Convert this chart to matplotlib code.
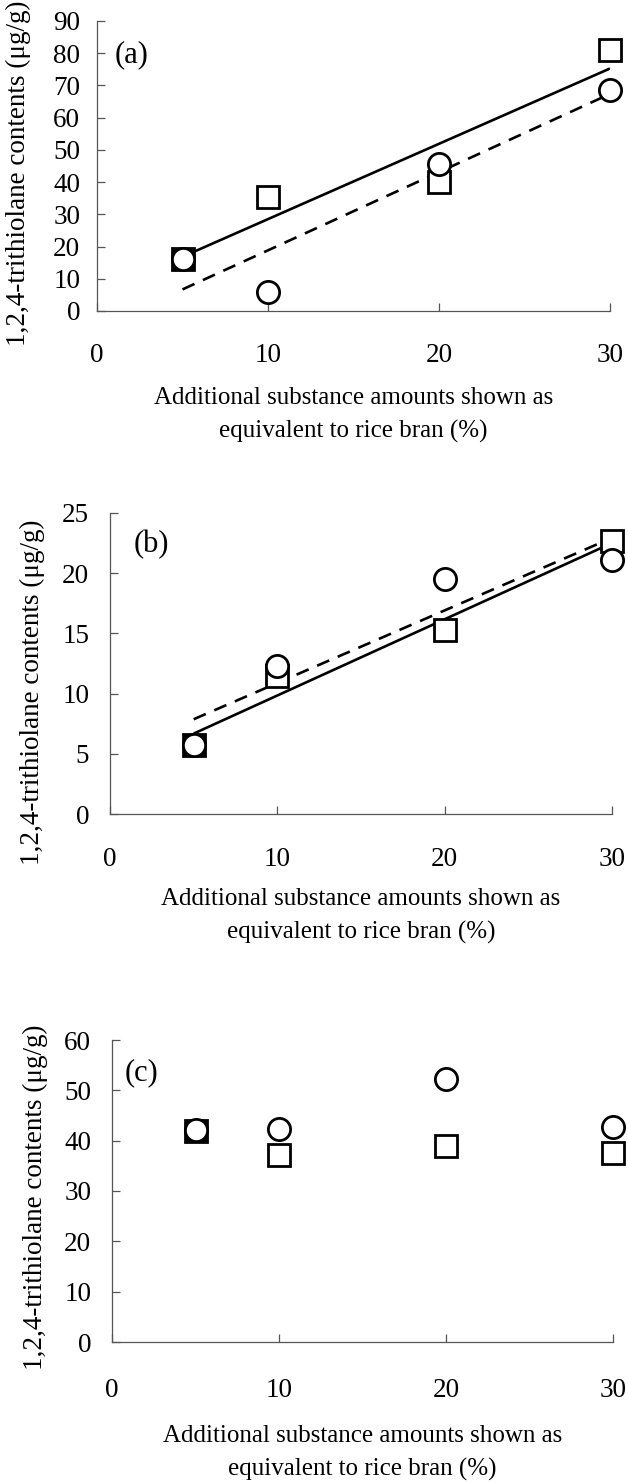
import numpy as np
import matplotlib
matplotlib.use("Agg")
import matplotlib.pyplot as plt

plt.rcParams['font.family'] = ['Liberation Serif', 'DejaVu Serif']

# ---- data ----
x_vals = [5, 10, 20, 30]

a_square = [16, 35.5, 40, 81]
a_circle = [16, 6, 45.5, 68.5]

b_square = [5.7, 11.5, 15.3, 22.7]
b_circle = [5.7, 12.3, 19.5, 21.1]

c_square = [42.0, 37.2, 39.0, 37.5]
c_circle = [42.2, 42.3, 52.3, 42.8]

x_ticks = [0, 10, 20, 30]
a_yticks = [0, 10, 20, 30, 40, 50, 60, 70, 80, 90]
b_yticks = [0, 5, 10, 15, 20, 25]
c_yticks = [0, 10, 20, 30, 40, 50, 60]

panel_labels = ['(a)', '(b)', '(c)']
ylabel = '1,2,4-trithiolane contents (\u03bcg/g)'
xlabel = 'Additional substance amounts shown as\nequivalent to rice bran (%)'

# ---- layout ----
W, H = 628, 1483
fig = plt.figure(figsize=(W / 100, H / 100), dpi=100)

def px_axes(left, right, top, bottom):
    return fig.add_axes([left / W, 1 - bottom / H, (right - left) / W, (bottom - top) / H])

panels = [
    dict(box=(97, 610, 21, 311), sq=a_square, ci=a_circle, yt=a_yticks, fit=True,
         lab=(132, 55), ypad=12, xpad=23, ylab=(31, 173), xlab=415),
    dict(box=(110, 612, 513, 814), sq=b_square, ci=b_circle, yt=b_yticks, fit=True,
         lab=(151, 545), ypad=15, xpad=24, ylab=(45, 692), xlab=916),
    dict(box=(112, 613, 1040, 1342), sq=c_square, ci=c_circle, yt=c_yticks, fit=False,
         lab=(141, 1073), ypad=15, xpad=26, ylab=(48, 1197), xlab=1453),
]

TICK_FS = 19.5
YLAB_FS = 19.5
XLAB_FS = 18
PLAB_FS = 22
spine_col = '#555555'

for p, plab in zip(panels, panel_labels):
    l, r, t, b = p['box']
    ax = px_axes(l, r, t, b)
    x = np.array(x_vals, dtype=float)
    sq = np.array(p['sq'])
    ci = np.array(p['ci'])

    if p['fit']:
        xs = np.array([x.min(), x.max()])
        k1, c1 = np.polyfit(x, sq, 1)
        k2, c2 = np.polyfit(x, ci, 1)
        ax.plot(xs, k1 * xs + c1, color='black', lw=1.9, solid_capstyle='butt', zorder=2)
        ax.plot(xs, k2 * xs + c2, color='black', lw=1.9, dashes=(5, 3.5), zorder=2)

    overlap = np.abs(sq - ci) < 0.3
    sq_face = ['black' if o else 'white' for o in overlap]
    for xi, yi, fc in zip(x, sq, sq_face):
        ax.plot([xi], [yi], marker='s', ms=16, mfc=fc, mec='black', mew=2.0,
                ls='none', zorder=3, clip_on=False)
    ax.plot(x, ci, marker='o', ms=16, mfc='white', mec='black', mew=2.0,
            ls='none', zorder=4, clip_on=False)

    ax.set_xlim(0, 30)
    ax.set_ylim(p['yt'][0], p['yt'][-1])
    ax.set_xticks(x_ticks)
    ax.set_yticks(p['yt'])
    for s in ['top', 'right']:
        ax.spines[s].set_visible(False)
    for s in ['left', 'bottom']:
        ax.spines[s].set_color(spine_col)
        ax.spines[s].set_linewidth(0.9)
    ax.tick_params(axis='both', direction='in', length=6, width=0.9, color=spine_col,
                   labelsize=TICK_FS)
    ax.tick_params(axis='y', pad=p['ypad'])
    ax.tick_params(axis='x', pad=p['xpad'])

    ax.text((p['lab'][0] - l) / (r - l), (b - p['lab'][1]) / (b - t), plab,
            transform=ax.transAxes, fontsize=PLAB_FS, ha='center', va='center')

    ax.set_ylabel(ylabel, fontsize=YLAB_FS)
    ax.yaxis.set_label_coords((p['ylab'][0] - l) / (r - l), (b - p['ylab'][1]) / (b - t))
    ax.set_xlabel(xlabel, fontsize=XLAB_FS, linespacing=1.65, va='center')
    ax.xaxis.set_label_coords(0.5, (b - p['xlab']) / (b - t))

fig.savefig('out.png', dpi=100)
